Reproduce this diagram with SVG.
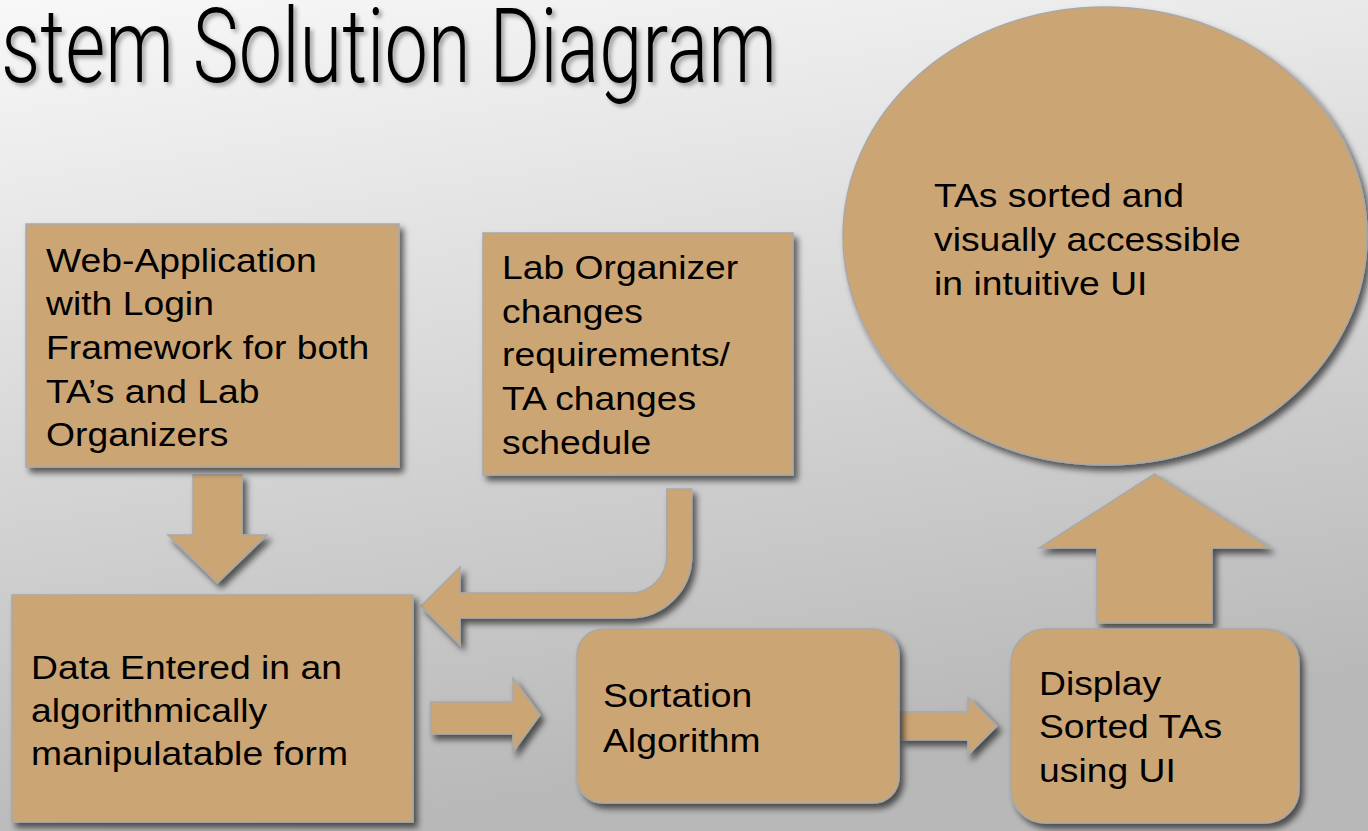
<svg xmlns="http://www.w3.org/2000/svg" width="1368" height="831" viewBox="0 0 1368 831">
<defs>
<linearGradient id="bg" x1="0" y1="0" x2="0.25" y2="1">
<stop offset="0" stop-color="#f8f8f8"/>
<stop offset="1" stop-color="#b8b8b8"/>
</linearGradient>
<filter id="sh" x="-10%" y="-10%" width="130%" height="130%">
<feDropShadow dx="4" dy="5" stdDeviation="3" flood-color="#000" flood-opacity="0.6"/>
</filter>
<filter id="tsh" x="-5%" y="-10%" width="110%" height="130%">
<feDropShadow dx="3" dy="3" stdDeviation="2" flood-color="#000" flood-opacity="0.35"/>
</filter>
</defs>
<style>
.shape{fill:#CCA574;stroke:#a8a8a8;stroke-width:1.5;filter:url(#sh)}
.t{font-family:"Liberation Sans",Arial,sans-serif;font-size:33px;fill:#000}
.title{font-family:Roboto,"Liberation Sans",sans-serif;font-weight:300;font-size:104px;fill:#000;filter:url(#tsh)}
</style>
<rect x="0" y="0" width="1368" height="831" fill="url(#bg)"/>
<text class="title" x="1" y="82" textLength="776" lengthAdjust="spacingAndGlyphs">stem Solution Diagram</text>

<g id="connectors">
<path class="shape" d="M193 475 L242 475 L242 535 L267 535 L217.5 583 L168 535 L193 535 Z"/>
<path class="shape" d="M691.7 489 L691.7 556 A62 62 0 0 1 629.7 618 L460 618 L460 645 L421 606 L460 567 L460 593 L629.7 593 A37 37 0 0 0 666.7 556 L666.7 489 Z"/>
<path class="shape" d="M430.5 702 L513 702 L513 678 L540 715 L513 752 L513 734 L430.5 734 Z"/>
<path class="shape" d="M900 712 L968 712 L968 697 L997 726 L968 755 L968 740 L900 740 Z"/>
<path class="shape" d="M1097 623 L1097 548 L1039 548 L1154.5 474 L1270 548 L1212 548 L1212 623 Z"/>
</g>

<g id="node-webapp">
<rect class="shape" x="26" y="224" width="373" height="243"/>
<text class="t" transform="translate(46,0) scale(1.13,1)"><tspan x="0" y="272">Web-Application</tspan><tspan x="0" y="315">with Login</tspan><tspan x="0" y="359">Framework for both</tspan><tspan x="0" y="403">TA’s and Lab</tspan><tspan x="0" y="446">Organizers</tspan></text>
</g>

<g id="node-changes">
<rect class="shape" x="483" y="233" width="310" height="242"/>
<text class="t" transform="translate(502,0) scale(1.13,1)"><tspan x="0" y="279">Lab Organizer</tspan><tspan x="0" y="323">changes</tspan><tspan x="0" y="366">requirements/</tspan><tspan x="0" y="410">TA changes</tspan><tspan x="0" y="454">schedule</tspan></text>
</g>

<g id="node-result">
<ellipse class="shape" cx="1105" cy="236" rx="262" ry="229"/>
<text class="t" transform="translate(934,0) scale(1.13,1)"><tspan x="0" y="207">TAs sorted and</tspan><tspan x="0" y="251">visually accessible</tspan><tspan x="0" y="295">in intuitive UI</tspan></text>
</g>

<g id="node-data">
<rect class="shape" x="12" y="595" width="401" height="227"/>
<text class="t" transform="translate(31,0) scale(1.13,1)"><tspan x="0" y="679">Data Entered in an</tspan><tspan x="0" y="722">algorithmically</tspan><tspan x="0" y="765">manipulatable form</tspan></text>
</g>

<g id="node-sort">
<rect class="shape" x="577" y="629" width="322" height="174" rx="26" ry="26"/>
<text class="t" transform="translate(603,0) scale(1.13,1)"><tspan x="0" y="707">Sortation</tspan><tspan x="0" y="752">Algorithm</tspan></text>
</g>

<g id="node-display">
<rect class="shape" x="1011" y="629" width="288" height="194" rx="34" ry="34"/>
<text class="t" transform="translate(1039,0) scale(1.13,1)"><tspan x="0" y="695">Display</tspan><tspan x="0" y="738">Sorted TAs</tspan><tspan x="0" y="782">using UI</tspan></text>
</g>
</svg>
